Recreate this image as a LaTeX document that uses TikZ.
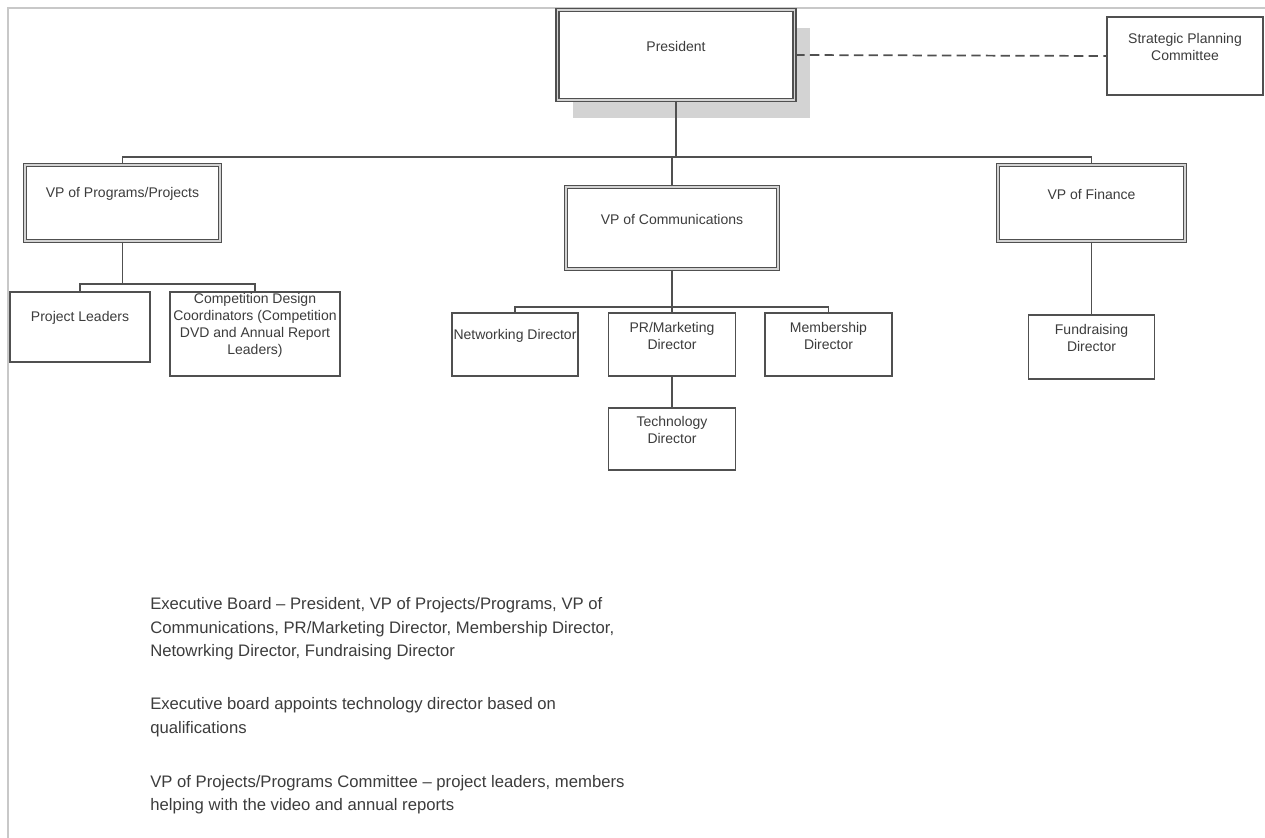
\documentclass[tikz,border=0pt]{standalone}
\usepackage{fontspec}
\setmainfont{Liberation Sans}
\usetikzlibrary{shadows}

\definecolor{linegrey}{HTML}{505050}
\definecolor{textgrey}{HTML}{3C3C3C}
\definecolor{framegrey}{HTML}{C8C8C8}
\definecolor{shadowgrey}{HTML}{D3D3D3}
\newcommand\boxfont{\fontsize{10.5}{12.75}\selectfont}
\newcommand\notefont{\fontsize{12.5}{17.6}\selectfont}

\tikzset{
  lbl/.style={font=\boxfont, text=textgrey, align=center, inner sep=0pt, yshift=6.75pt},
  officebox/.style={draw=linegrey, line width=1.2pt, fill=white, inner sep=0pt, label={[lbl]center:#1}},
  headbox/.style={officebox=#1, line width=1.2pt, double=shadowgrey, double distance=1.3pt},
  link/.style={draw=linegrey, line width=1.3pt},
  note/.style={font=\notefont, text=textgrey, anchor=west, align=left, inner sep=0pt}
}

\begin{document}
\begin{tikzpicture}[x=0.75pt, y=-0.75pt]
    \useasboundingbox (0,0) rectangle (1265,838);
    \draw[framegrey, line width=1.1pt] (8,838) -- (8,8) -- (1265,8);

    \node[headbox=President, minimum width=177.75pt, minimum height=67.5pt,
          drop shadow={shadow xshift=11.25pt, shadow yshift=-13.5pt, fill=shadowgrey, opacity=1}] (pres) at (676,55) {};
    \node[officebox={Strategic Planning\\Committee}, minimum width=117pt, minimum height=58.5pt] (spc) at (1185,56) {};

    \node[headbox={VP of Programs/Projects}, minimum width=146.25pt, minimum height=57pt] (vpprog) at (122.5,203) {};
    \node[headbox={VP of Communications}, minimum width=159pt, minimum height=61.5pt] (vpcomm) at (672,228) {};
    \node[headbox={VP of Finance}, minimum width=140.25pt, minimum height=57pt] (vpfin) at (1091.5,203) {};

    \node[officebox={Project Leaders}, minimum width=105pt, minimum height=52.5pt] (projlead) at (80,327) {};
    \node[officebox={Competition Design\\Coordinators (Competition\\DVD and Annual Report\\Leaders)}, minimum width=127.5pt, minimum height=63pt] (comp) at (255,334) {};

    \node[officebox={Networking Director}, minimum width=94.5pt, minimum height=47.25pt] (netw) at (515,344.5) {};
    \node[officebox={PR/Marketing\\Director}, minimum width=95.25pt, minimum height=47.25pt] (prm) at (672,344.5) {};
    \node[officebox={Membership\\Director}, minimum width=95.25pt, minimum height=47.25pt] (memb) at (828.5,344.5) {};
    \node[officebox={Technology\\Director}, minimum width=95.25pt, minimum height=46.5pt] (tech) at (672,439) {};
    \node[officebox={Fundraising\\Director}, minimum width=94.5pt, minimum height=48pt] (fund) at (1091.5,347) {};

    \coordinate (bus) at (0,157);
    \draw[link, dashed, dash pattern=on 7pt off 4pt] (pres.east) -- (spc.west);
    \draw[link] (pres.south) -- (pres.south |- bus);
    \draw[link] (vpprog.north) -- (vpprog.north |- bus) -| (vpfin.north);
    \draw[link] (vpcomm.north) -- (vpcomm.north |- bus);

    \draw[link] (vpprog.south) -- ++(0,42) coordinate (pj);
    \draw[link] (projlead.north) |- (pj) -| (comp.north);

    \draw[link] (vpcomm.south) -- ++(0,37) coordinate (cj);
    \draw[link] (netw.north) |- (cj) -| (memb.north);
    \draw[link] (cj) -- (prm.north);
    \draw[link] (prm.south) -- (tech.north);
    \draw[link] (vpfin.south) -- (fund.north);

    \node[note] (board) at (150,629) {Executive Board – President, VP of Projects/Programs, VP of\\Communications, PR/Marketing Director, Membership Director,\\Netowrking Director, Fundraising Director};
    \node[note] (appoint) at (150,717) {Executive board appoints technology director based on\\qualifications};
    \node[note] (committee) at (150,794.5) {VP of Projects/Programs Committee – project leaders, members\\helping with the video and annual reports};
\end{tikzpicture}
\end{document}
